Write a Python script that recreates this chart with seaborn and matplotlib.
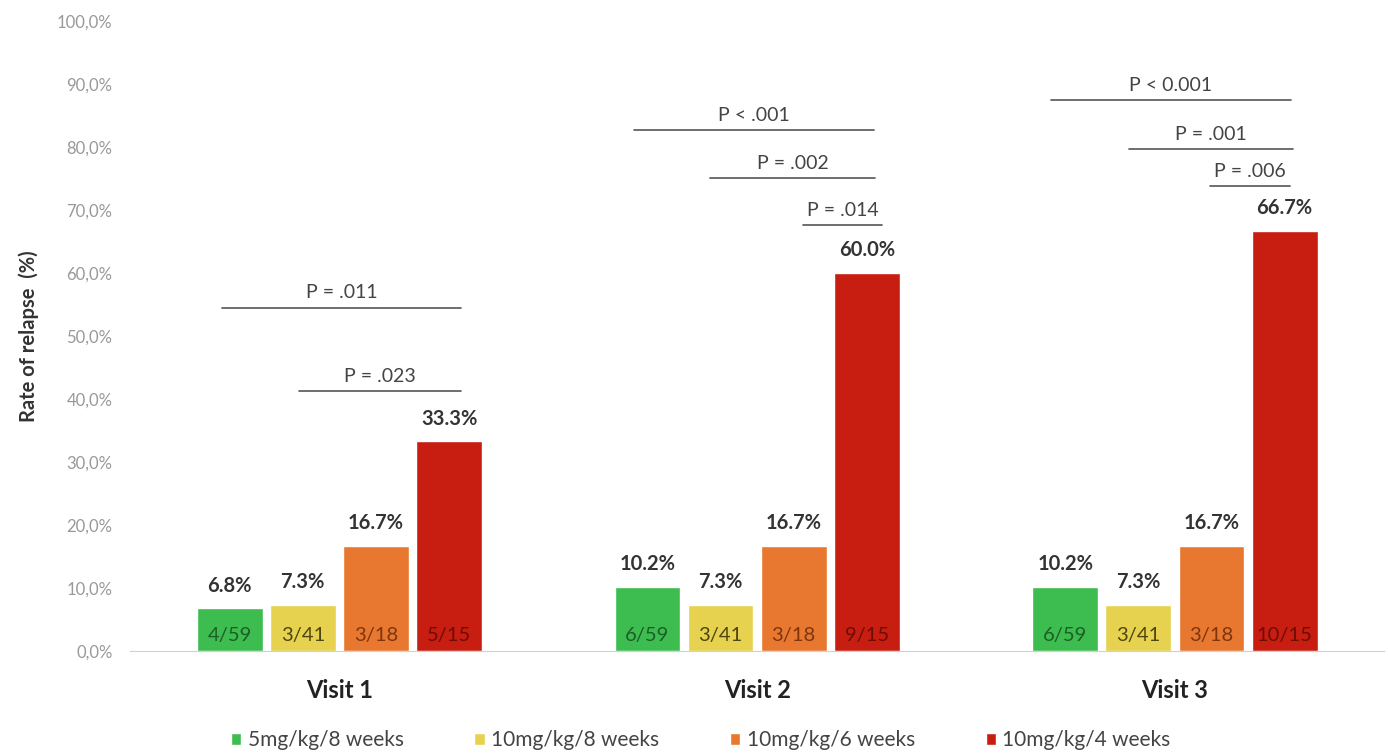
import numpy as np
import pandas as pd
import matplotlib
matplotlib.use("Agg")
import matplotlib.pyplot as plt
from matplotlib.ticker import FuncFormatter
import seaborn as sns

# data
visits = ["Visit 1", "Visit 2", "Visit 3"]
groups = ["5mg/kg/8 weeks", "10mg/kg/8 weeks", "10mg/kg/6 weeks", "10mg/kg/4 weeks"]
rate_5_8 = [6.8, 10.2, 10.2]
rate_10_8 = [7.3, 7.3, 7.3]
rate_10_6 = [16.7, 16.7, 16.7]
rate_10_4 = [33.3, 60.0, 66.7]
frac_5_8 = ["4/59", "6/59", "6/59"]
frac_10_8 = ["3/41", "3/41", "3/41"]
frac_10_6 = ["3/18", "3/18", "3/18"]
frac_10_4 = ["5/15", "9/15", "10/15"]

# p-value brackets: (visit index, x start, x end, height %, label)
brackets = [
    (0, -0.282, 0.292, 54.5, "P = .011"),
    (0, -0.096, 0.292, 41.3, "P = .023"),
    (1, -0.294, 0.280, 82.7, "P < .001"),
    (1, -0.112, 0.282, 75.1, "P = .002"),
    (1, 0.110, 0.300, 67.6, "P = .014"),
    (2, -0.297, 0.278, 87.5, "P < 0.001"),
    (2, -0.110, 0.282, 79.7, "P = .001"),
    (2, 0.084, 0.275, 73.8, "P = .006"),
]

colors = ["#3dbd4f", "#e6d24e", "#e8782f", "#c81d11"]
text_colors = ["#1d5e27", "#4e4610", "#7d3510", "#6e0c06"]

rates = [rate_5_8, rate_10_8, rate_10_6, rate_10_4]
fracs = [frac_5_8, frac_10_8, frac_10_6, frac_10_4]
df = pd.DataFrame({
    "visit": np.repeat([visits], 4, axis=0).ravel(),
    "group": np.repeat(groups, 3),
    "rate": np.concatenate(rates),
})

sns.set_style("white")
plt.rcParams["font.family"] = ["Lato", "DejaVu Sans"]

fig = plt.figure(figsize=(13.88, 7.53), dpi=100)
ax = fig.add_axes([0.094, 0.1355, 0.903, 0.8365])

sns.barplot(data=df, x="visit", y="rate", hue="group", order=visits,
            hue_order=groups, palette=colors, width=0.7, gap=0.1,
            saturation=1, ax=ax, legend=True)

for i, cont in enumerate(ax.containers):
    for j, bar in enumerate(cont):
        cx = bar.get_x() + bar.get_width() / 2
        h = bar.get_height()
        ax.text(cx, h + 2.0, f"{rates[i][j]:.1f}%", ha="center", va="bottom",
                fontsize=14.5, fontweight="bold", color="#333333")
        ax.text(cx, 2.4, fracs[i][j], ha="center", va="center",
                fontsize=14.5, color=text_colors[i])

for v, x0, x1, y, lab in brackets:
    ax.plot([v + x0, v + x1], [y, y], color="#555555", lw=1.2)
    ax.text(v + (x0 + x1) / 2, y + 1.0, lab, ha="center", va="bottom",
            fontsize=14, color="#444444")

ax.set_ylim(0, 100)
ax.set_xlim(-0.5, 2.5)
ax.set_yticks(np.arange(0, 101, 10))
ax.yaxis.set_major_formatter(FuncFormatter(lambda v, p: f"{v:.1f}%".replace(".", ",")))
ax.tick_params(axis="y", labelsize=12, colors="#999999", length=0, pad=13)
ax.tick_params(axis="x", labelsize=17, length=0, pad=20)
for t in ax.get_xticklabels():
    t.set_fontweight("bold")
    t.set_color("#222222")
ax.set_xlabel("")
ax.set_ylabel("Rate of relapse  (%)", fontsize=14.5, fontweight="bold",
              color="#333333", labelpad=0)
ax.yaxis.set_label_coords(-0.073, 0.5)

for s in ["top", "right", "left"]:
    ax.spines[s].set_visible(False)
ax.spines["bottom"].set_color("#d0d0d0")

handles, labels = ax.get_legend_handles_labels()
ax.legend(handles, labels, loc="center", bbox_to_anchor=(0.455, -0.142),
          ncol=4, frameon=False, fontsize=15, handlelength=0.5,
          handleheight=0.5, handletextpad=0.3, columnspacing=3.4,
          labelcolor="#444444", borderpad=0)

fig.savefig("out.png", dpi=100)
